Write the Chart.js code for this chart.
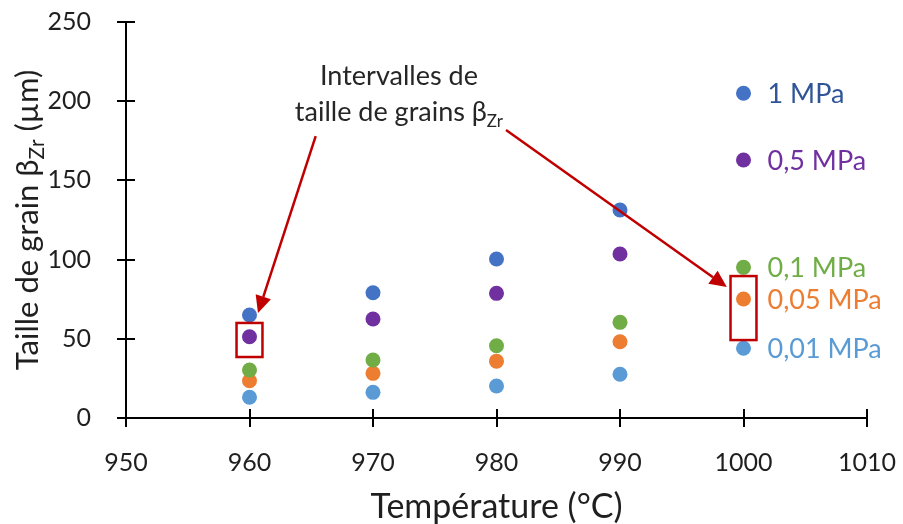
<!DOCTYPE html>
<html><head><meta charset="utf-8">
<script src="https://cdn.jsdelivr.net/npm/chart.js@4/dist/chart.umd.min.js"></script>
<style>html,body{margin:0;padding:0;background:#fff}#wrap{width:903px;height:524px}</style>
</head><body><div id="wrap"><canvas id="c" width="903" height="524"></canvas></div>
<script>
const temperatures = [960, 970, 980, 990, 1000];
const seriesNames = ['1 MPa', '0,5 MPa', '0,1 MPa', '0,05 MPa', '0,01 MPa'];
const s1MPa   = [65.0, 79.1, 100.4, 131.3, 205.0];
const s05MPa  = [51.3, 62.5, 78.7, 103.5, 162.9];
const s01MPa  = [30.3, 36.6, 45.6, 60.4, 95.1];
const s005MPa = [23.5, 28.2, 35.9, 48.1, 75.1];
const s001MPa = [13.1, 16.2, 20.2, 27.6, 44.0];
const xTicks = [950, 960, 970, 980, 990, 1000, 1010];
const yTicks = [0, 50, 100, 150, 200, 250];
const dotColors = ['#4472C4', '#7030A0', '#70AD47', '#ED7D31', '#5B9BD5'];
const labelColors = ['#2F5597', '#7030A0', '#70AD47', '#ED7D31', '#5B9BD5'];

const allSeries = [s1MPa, s05MPa, s01MPa, s005MPa, s001MPa];
const datasets = allSeries.map((vals, i) => ({
  label: seriesNames[i],
  data: temperatures.map((t, j) => ({x: t, y: vals[j]})),
  backgroundColor: dotColors[i],
  borderWidth: 0,
  pointRadius: 7.5,
  showLine: false
}));

const FONT = 'Lato, "Open Sans", sans-serif';
const RED = '#C00000';
const TEXT = '#1f1f1f';

function arrow(ctx, x1, y1, x2, y2) {
  const ang = Math.atan2(y2 - y1, x2 - x1);
  const hl = 17, hw = 8;
  const bx = x2 - hl * Math.cos(ang), by = y2 - hl * Math.sin(ang);
  ctx.strokeStyle = RED; ctx.fillStyle = RED; ctx.lineWidth = 2.5;
  ctx.beginPath(); ctx.moveTo(x1, y1); ctx.lineTo(bx, by); ctx.stroke();
  ctx.beginPath();
  ctx.moveTo(x2, y2);
  ctx.lineTo(bx + hw * Math.sin(ang), by - hw * Math.cos(ang));
  ctx.lineTo(bx - hw * Math.sin(ang), by + hw * Math.cos(ang));
  ctx.closePath(); ctx.fill();
}

const deco = {
  id: 'deco',
  beforeDatasetsDraw(chart) {
    const ctx = chart.ctx, xs = chart.scales.x, ys = chart.scales.y, ca = chart.chartArea;
    ctx.save();
    ctx.strokeStyle = '#000'; ctx.lineWidth = 2;
    ctx.beginPath();
    ctx.moveTo(ca.left, ca.top); ctx.lineTo(ca.left, ca.bottom);
    ctx.moveTo(ca.left, ca.bottom); ctx.lineTo(ca.right + 1, ca.bottom);
    yTicks.forEach(v => { const y = Math.round(ys.getPixelForValue(v)); ctx.moveTo(ca.left - 9, y); ctx.lineTo(ca.left + 9, y); });
    xTicks.forEach(v => { const x = Math.round(xs.getPixelForValue(v)); ctx.moveTo(x, ca.bottom - 9); ctx.lineTo(x, ca.bottom + 9); });
    ctx.stroke();
    ctx.restore();
  },
  afterDraw(chart) {
    const ctx = chart.ctx, xs = chart.scales.x, ys = chart.scales.y, ca = chart.chartArea;
    const px = v => xs.getPixelForValue(v), py = v => ys.getPixelForValue(v);
    ctx.save();
    // y title with subscript
    ctx.translate(38, (ca.top + ca.bottom) / 2);
    ctx.rotate(-Math.PI / 2);
    ctx.fillStyle = TEXT;
    ctx.textBaseline = 'alphabetic';
    const big = '31px ' + FONT, sub = '21px ' + FONT;
    const p1 = 'Taille de grain \u03B2', p2 = 'Zr', p3 = ' (\u00B5m)';
    ctx.font = big; const w1 = ctx.measureText(p1).width, w3 = ctx.measureText(p3).width;
    ctx.font = sub; const w2 = ctx.measureText(p2).width;
    let x0 = -(w1 + w2 + w3) / 2;
    ctx.font = big; ctx.fillText(p1, x0, 0);
    ctx.font = sub; ctx.fillText(p2, x0 + w1, 6);
    ctx.font = big; ctx.fillText(p3, x0 + w1 + w2, 0);
    ctx.restore();

    ctx.save();
    // series labels at last point
    ctx.font = '27px ' + FONT; ctx.textBaseline = 'middle'; ctx.textAlign = 'left';
    allSeries.forEach((vals, i) => {
      const last = vals.length - 1;
      ctx.fillStyle = labelColors[i];
      ctx.fillText(seriesNames[i], px(temperatures[last]) + 24, py(vals[last]) + 1);
    });
    // annotation text
    ctx.fillStyle = '#262626'; ctx.textBaseline = 'alphabetic';
    ctx.font = '27px ' + FONT; ctx.textAlign = 'center';
    ctx.fillText('Intervalles de', px(972.1), py(210.5));
    const a = 'taille de grains \u03B2', b = 'Zr';
    ctx.font = '27px ' + FONT; const wa = ctx.measureText(a).width;
    ctx.font = '17px ' + FONT; const wb = ctx.measureText(b).width;
    const cx = px(972.1) - (wa + wb) / 2, by = py(187.5);
    ctx.textAlign = 'left';
    ctx.font = '27px ' + FONT; ctx.fillText(a, cx, by);
    ctx.font = '17px ' + FONT; ctx.fillText(b, cx + wa, by + 6);
    // red boxes
    ctx.strokeStyle = RED; ctx.lineWidth = 2.5;
    ctx.strokeRect(px(958.95), py(60.0), px(961.05) - px(958.95), py(38.5) - py(60.0));
    ctx.strokeRect(px(998.95), py(89.6), px(1001.05) - px(998.95), py(49.2) - py(89.6));
    // arrows
    arrow(ctx, px(965.36), py(178), px(960.69), py(66.3));
    arrow(ctx, px(980.77), py(181.8), px(998.65), py(82.7));
    ctx.restore();
  }
};

new Chart(document.getElementById('c'), {
  type: 'scatter',
  data: { datasets },
  options: {
    responsive: false,
    animation: false,
    events: [],
    layout: { padding: { top: 22, right: 36, bottom: 0, left: 0 } },
    plugins: { legend: { display: false }, tooltip: { enabled: false } },
    scales: {
      x: {
        type: 'linear', min: 950, max: 1010,
        afterBuildTicks: s => { s.ticks = xTicks.map(v => ({value: v})); },
        afterFit: s => { s.height = 106; s.paddingLeft = 0; s.paddingRight = 0; },
        grid: { display: false }, border: { display: false },
        ticks: { color: TEXT, font: { family: FONT, size: 25 }, padding: 22, callback: v => String(v) },
        title: { display: true, text: 'Température (°C)', color: TEXT, font: { family: FONT, size: 34, lineHeight: 1.0 }, padding: 0 }
      },
      y: {
        type: 'linear', min: 0, max: 250,
        afterBuildTicks: s => { s.ticks = yTicks.map(v => ({value: v})); },
        afterFit: s => { s.width = 126; s.paddingTop = 0; s.paddingBottom = 0; },
        grid: { display: false }, border: { display: false },
        ticks: { color: TEXT, font: { family: FONT, size: 25 }, padding: 27, callback: v => String(v) }
      }
    }
  },
  plugins: [deco]
});
</script></body></html>
